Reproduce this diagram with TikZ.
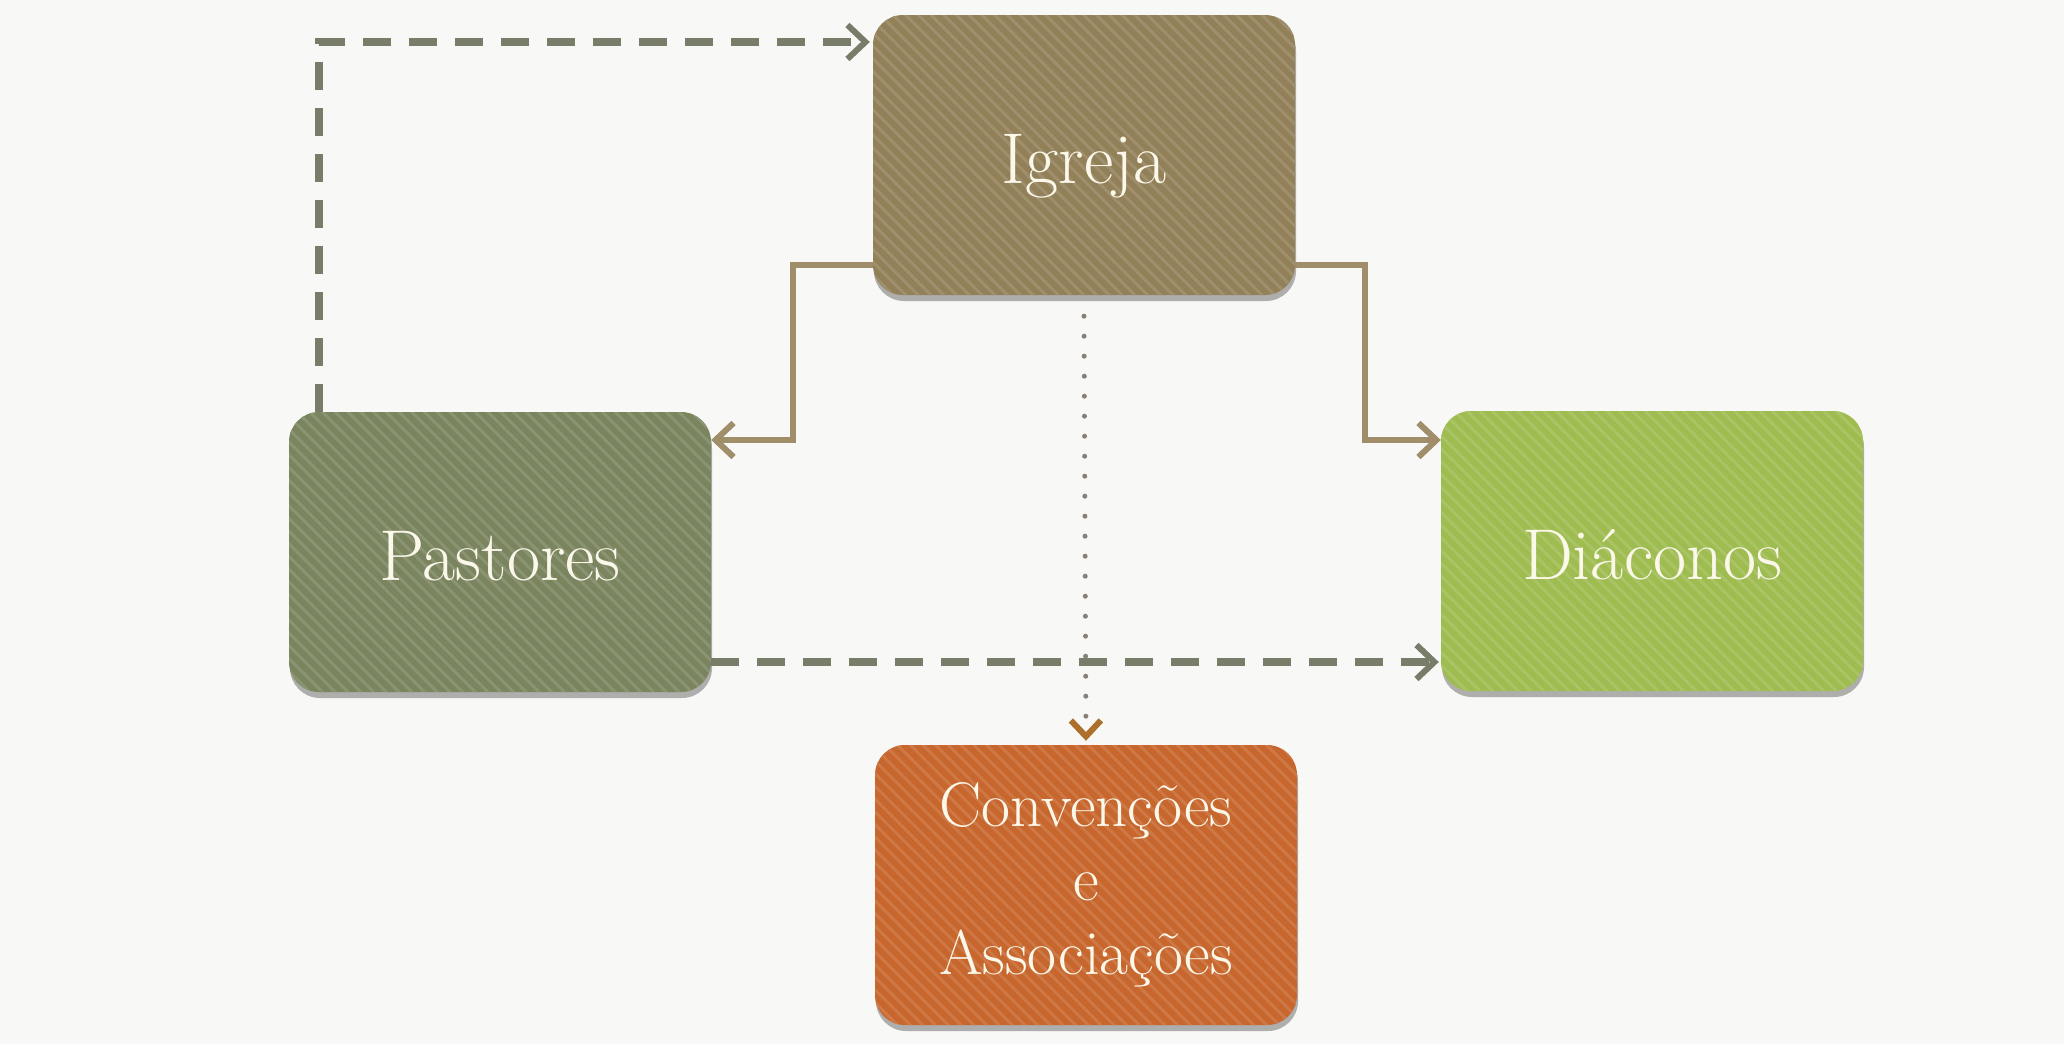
\documentclass[tikz,border=0pt]{standalone}
\usepackage{fontspec}
\usetikzlibrary{arrows.meta,shadows,patterns.meta,calc}
\definecolor{bg}{RGB}{248,248,246}
\definecolor{txt}{RGB}{251,248,234}
\definecolor{cIgreja}{RGB}{146,128,89}
\definecolor{cPast}{RGB}{122,133,95}
\definecolor{cDiac}{RGB}{158,188,80}
\definecolor{cConv}{RGB}{199,102,45}
\definecolor{cLink}{RGB}{160,141,106}
\definecolor{cDash}{RGB}{120,125,105}
\definecolor{cDot}{RGB}{135,128,118}
\definecolor{cDotHead}{RGB}{172,112,42}
\begin{document}
\begin{tikzpicture}[x=1pt,y=-1pt,
  boxbase/.style={fill=#1, rounded corners=30pt, minimum width=422pt, minimum height=280pt,
    inner sep=0pt, text=txt,
    drop shadow={shadow xshift=1pt,shadow yshift=-6pt,opacity=0.4,fill=black!75},
    path picture={\fill[pattern={Lines[angle=-45,distance=9pt,line width=3pt]},
      pattern color=#1!88!white]
      (path picture bounding box.south west) rectangle (path picture bounding box.north east);}},
  onebox/.style={boxbase=#1, font=\fontsize{72}{74}\selectfont, text height=56pt, text depth=0pt},
  solidarrow/.style={draw=cLink, line width=6pt, -{Straight Barb[length=18pt,width=34pt]}},
  dasharrow/.style={draw=cDash, line width=8pt, dash pattern=on 28pt off 18pt,
    -{Straight Barb[length=18pt,width=34pt,line width=6pt]}},
  dotarrow/.style={draw=cDot, line width=5pt, line cap=round, dash pattern=on 0pt off 20pt,
    -{Straight Barb[length=16pt,width=30pt,line width=6pt,color=cDotHead]}}
]
\useasboundingbox (0,0) rectangle (2064,1044);
\fill[bg] (0,0) rectangle (2064,1044);

\node[onebox=cIgreja] (I) at (1084,155) {Igreja};
\node[onebox=cPast] (P) at (500,552) {Pastores};
\node[onebox=cDiac] (D) at (1652,551) {Diáconos};
\node[boxbase=cConv, align=center, font=\fontsize{63}{74}\selectfont] (C) at (1086,885)
  {Convenções\\e\\Associações};

\coordinate (lbend) at (793,440);
\coordinate (rbend) at (1365,440);
\coordinate (tl) at (319,42);
\coordinate (bd) at (0,662);

\draw[solidarrow] ([yshift=30pt]I.south west) -| (lbend) -- (P.east |- lbend);
\draw[solidarrow] ([yshift=30pt]I.south east) -| (rbend) -- (D.west |- rbend);
\draw[dasharrow] (P.north -| tl) -- (tl) -- ([xshift=-3pt]I.west |- tl);
\draw[dasharrow] (P.east |- bd) -- ([xshift=-2pt]D.west |- bd);
\draw[dotarrow, shorten >=4pt] ([yshift=-21pt]I.south) -- (C.north);
\end{tikzpicture}
\end{document}
